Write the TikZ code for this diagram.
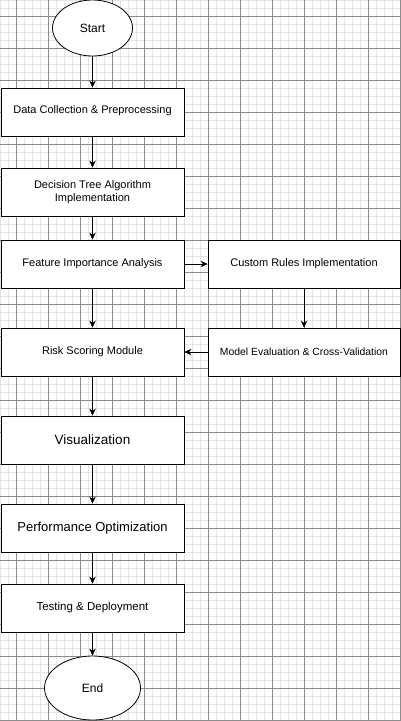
\documentclass[tikz,border=0pt]{standalone}
\usepackage{fontspec}
\setmainfont{Liberation Sans}
\usetikzlibrary{arrows.meta, shapes.geometric, calc}

\tikzset{
    gridminor/.style={draw=gray!20, line width=0.8pt},
    gridmajor/.style={draw=black!45, line width=0.7pt},
    procbox/.style={draw, fill=white, line width=0.8pt, minimum width=183pt, minimum height=48pt,
        inner sep=0pt, align=center, font=\fontsize{11}{13}\selectfont},
    sidebox/.style={procbox, minimum width=192pt},
    termnode/.style={draw, ellipse, fill=white, line width=0.8pt, inner sep=0pt,
        font=\fontsize{12}{14}\selectfont},
    flow/.style={-{Stealth[length=7pt, width=6.5pt]}, line width=0.8pt},
}

\begin{document}
\begin{tikzpicture}[x=1pt, y=-1pt]

%% page size, like the drawing canvas
\def\pageW{401}
\def\pageH{721}

%% main column and side column
\def\mainX{92.5}
\def\sideX{304}

\fill[white] (0,0) rectangle (\pageW,\pageH);
\useasboundingbox (0,0) rectangle (\pageW,\pageH);

%% background grid
\foreach \g in {0,8,...,400} \draw[gridminor] (\g,0) -- (\g,\pageH);
\foreach \g in {0,8,...,720} \draw[gridminor] (0,\g) -- (\pageW,\g);
\foreach \g in {16,48,...,400} \draw[gridmajor] (\g,0) -- (\g,\pageH);
\foreach \g in {16,48,...,720} \draw[gridmajor] (0,\g) -- (\pageW,\g);

%% flow steps
\node[termnode, minimum width=80pt, minimum height=56pt] (start) at (\mainX, 28) {Start};
\node[procbox] (collect) at (\mainX, 112) {\raisebox{5pt}{Data Collection \& Preprocessing}};
\node[procbox] (dtree) at (\mainX, 192) {Decision Tree Algorithm\\Implementation};
\node[procbox] (featimp) at (\mainX, 264) {Feature Importance Analysis};
\node[sidebox] (rules) at (\sideX, 264) {Custom Rules Implementation};
\node[procbox] (risk) at (\mainX, 352) {Risk Scoring Module};
\node[sidebox, font=\fontsize{10.4}{12}\selectfont] (evalcv) at (\sideX, 352) {Model Evaluation \& Cross-Validation};
\node[procbox, font=\fontsize{13.5}{16}\selectfont] (visual) at (\mainX, 440) {Visualization};
\node[procbox, font=\fontsize{13}{15}\selectfont] (perfopt) at (\mainX, 528) {Performance Optimization};
\node[procbox, font=\fontsize{11.5}{14}\selectfont] (deploy) at (\mainX, 608) {Testing \& Deployment};
\node[termnode, minimum width=96pt, minimum height=64pt] (stop) at (\mainX, 688) {End};

%% connectors
\draw[flow] (start) -- (collect);
\draw[flow] (collect) -- (dtree);
\draw[flow] (dtree) -- (featimp);
\draw[flow] (featimp) -- (risk);
\draw[flow] (featimp) -- (rules);
\draw[flow] (rules) -- (evalcv);
\draw[flow] (evalcv) -- (risk);
\draw[flow] (risk) -- (visual);
\draw[flow] (visual) -- (perfopt);
\draw[flow] (perfopt) -- (deploy);
\draw[flow] (deploy) -- (stop);

\end{tikzpicture}
\end{document}
